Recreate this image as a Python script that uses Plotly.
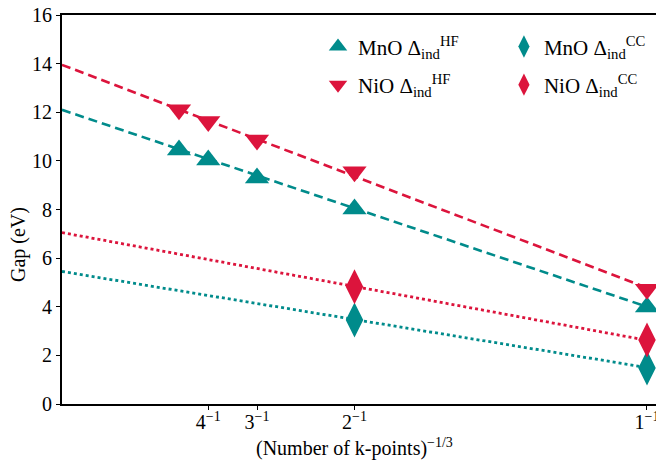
import plotly.graph_objects as go

# data
kx = [1/5, 1/4, 1/3, 1/2, 1]
mno_hf = [10.45, 10.04, 9.3, 8.02, 3.99]
nio_hf = [12.1, 11.62, 10.86, 9.55, 4.72]
kx_cc = [1/2, 1]
mno_cc = [3.46, 1.48]
nio_cc = [4.82, 2.63]

fit_x = [0, 1]
mno_hf_fit = [12.1, 4.0]
nio_hf_fit = [13.95, 4.78]
mno_cc_fit = [5.45, 1.5]
nio_cc_fit = [7.05, 2.62]

tick_vals = [1/4, 1/3, 1/2, 1]
tick_text = ["4<sup>−1</sup>", "3<sup>−1</sup>", "2<sup>−1</sup>", "1<sup>−1</sup>"]
x_title = "(Number of k-points)<sup>−1/3</sup>"
y_title = "Gap (eV)"

teal = "#008B8B"
red = "#DC143C"
FONT = "Liberation Serif"

fig = go.Figure()

# fit lines
fig.add_trace(go.Scatter(x=fit_x, y=nio_hf_fit, mode="lines", line=dict(color=red, width=2.6, dash="9px,5px"), showlegend=False))
fig.add_trace(go.Scatter(x=fit_x, y=mno_hf_fit, mode="lines", line=dict(color=teal, width=2.6, dash="9px,5px"), showlegend=False))
fig.add_trace(go.Scatter(x=fit_x, y=nio_cc_fit, mode="lines", line=dict(color=red, width=2.8, dash="dot"), showlegend=False))
fig.add_trace(go.Scatter(x=fit_x, y=mno_cc_fit, mode="lines", line=dict(color=teal, width=2.8, dash="dot"), showlegend=False))

# markers
fig.add_trace(go.Scatter(x=kx, y=mno_hf, mode="markers", name="MnO Δ<sub>ind</sub><sup>HF</sup>",
                         marker=dict(symbol="triangle-up", size=21, color=teal), legend="legend"))
fig.add_trace(go.Scatter(x=kx, y=nio_hf, mode="markers", name="NiO Δ<sub>ind</sub><sup>HF</sup>",
                         marker=dict(symbol="triangle-down", size=21, color=red), legend="legend2"))
fig.add_trace(go.Scatter(x=kx_cc, y=mno_cc, mode="markers", name="MnO Δ<sub>ind</sub><sup>CC</sup>",
                         marker=dict(symbol="diamond-tall", size=25, color=teal), legend="legend3"))
fig.add_trace(go.Scatter(x=kx_cc, y=nio_cc, mode="markers", name="NiO Δ<sub>ind</sub><sup>CC</sup>",
                         marker=dict(symbol="diamond-tall", size=25, color=red), legend="legend4"))

leg = dict(xanchor="left", yanchor="middle", bgcolor="rgba(0,0,0,0)",
           font=dict(size=21), itemwidth=30, itemsizing="trace")

fig.update_layout(
    width=656, height=462,
    margin=dict(l=62, r=0, t=15, b=58),
    plot_bgcolor="white", paper_bgcolor="white",
    font=dict(family=FONT, size=20, color="black"),
    xaxis=dict(range=[0, 1.0154], tickvals=tick_vals, ticktext=tick_text, automargin=False,
               ticklabeloverflow="allow", tickfont=dict(size=20), ticklabelstandoff=-5,
               showgrid=False, zeroline=False, showline=True, linecolor="black", linewidth=2,
               mirror=True, ticks="outside", ticklen=4, tickcolor="black"),
    yaxis=dict(range=[0, 16], tickvals=list(range(0, 17, 2)), automargin=False,
               ticklabeloverflow="allow", tickfont=dict(size=20),
               showgrid=False, zeroline=False, showline=True, linecolor="black", linewidth=2,
               mirror=False, ticks="outside", ticklen=4, tickcolor="black"),
    legend=dict(x=0.431, y=0.918, **leg),
    legend2=dict(x=0.431, y=0.820, **leg),
    legend3=dict(x=0.744, y=0.918, **leg),
    legend4=dict(x=0.744, y=0.820, **leg),
    annotations=[
        dict(text=x_title, xref="paper", yref="paper", x=(354 - 62) / 594, y=-(447 - 404) / 389,
             xanchor="center", yanchor="middle", showarrow=False, font=dict(size=20)),
        dict(text=y_title, xref="paper", yref="paper", x=-(62 - 18) / 594, y=(404 - 245) / 389,
             xanchor="center", yanchor="middle", showarrow=False, textangle=-90, font=dict(size=20)),
    ],
)

fig.write_html("out.html")
